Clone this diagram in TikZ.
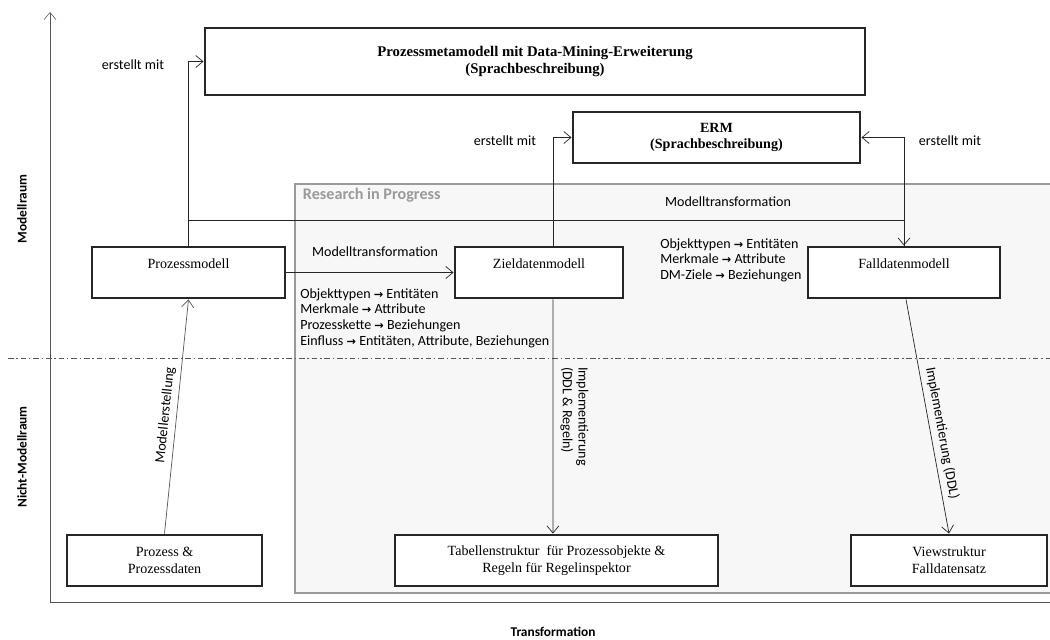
\documentclass[tikz,border=0pt]{standalone}
\usepackage{fontspec}
\setmainfont{Liberation Serif}
\newfontfamily\calfont{Carlito}
\newfontfamily\symfont{DejaVu Sans}
\usetikzlibrary{arrows, arrows.meta}
\usetikzlibrary{calc}
\definecolor{rahmengrau}{HTML}{9A9A9A}
\definecolor{flaechegrau}{HTML}{F7F7F7}
\definecolor{achsgrau}{HTML}{555555}
\newcommand{\zu}{{\symfont\bfseries\fontsize{8}{10}\selectfont →}}

\begin{document}
\begin{tikzpicture}[
    kasten/.style={draw=black!85, line width=2.1pt, fill=white, align=center, minimum height=1.275cm, inner sep=2pt},
    modell/.style={kasten, text depth=0.45cm},
    pfeil/.style={-{Straight Barb[length=1.8mm, width=3mm]}, draw=black!85, line width=0.5pt},
    beschr/.style={font=\calfont\fontsize{10}{11.2}\selectfont},
    achse/.style={font=\calfont\bfseries\fontsize{9.5}{11}\selectfont}
  ]
    \useasboundingbox (0,0) rectangle (26.25,-16);

    \fill[flaechegrau] (7.375,-4.6) rectangle (26.25,-14.825);
    \draw[rahmengrau, line width=1.8pt] (26.25,-4.6) -- (7.375,-4.6) -- (7.375,-14.825) -- (26.25,-14.825);
    \node[anchor=west, text=rahmengrau, font=\calfont\bfseries\fontsize{11.5}{13}\selectfont] (rip) at (7.45,-4.875) {Research in Progress};

    \coordinate (ursprung) at (1.25,-15.05);
    \coordinate (yspitze) at (1.25,-0.3);
    \coordinate (xende) at (26.25,-15.05);
    \draw[achsgrau, -{Straight Barb[length=1.8mm, width=3mm]}] (ursprung) -- (yspitze);
    \draw[achsgrau] (ursprung) -- (xende);
    \draw[achsgrau, dash pattern=on 4pt off 2pt on 1pt off 2pt] (0.2,-8.95) -- (26.25,-8.95);

    \node[achse, rotate=90] (mr) at (0.55,-5.225) {Modellraum};
    \node[achse, rotate=90] (nmr) at (0.55,-11.425) {Nicht-Modellraum};
    \node[achse] (tf) at (13.825,-15.8) {Transformation};

    \node[kasten, minimum width=16.5cm, minimum height=1.675cm, font=\bfseries\fontsize{10.5}{12.5}\selectfont] (meta) at (13.375,-1.5375) {Prozessmetamodell mit Data-Mining-Erweiterung\\(Sprachbeschreibung)};
    \node[kasten, minimum width=7.175cm, font=\bfseries] (erm) at (17.9125,-3.4375) {ERM\\(Sprachbeschreibung)};
    \node[modell, minimum width=4.825cm] (pm) at (4.7125,-6.8125) {Prozessmodell};
    \node[modell, minimum width=4.2cm] (zm) at (13.475,-6.8125) {Zieldatenmodell};
    \node[modell, minimum width=4.8cm] (fm) at (22.6,-6.8125) {Falldatenmodell};
    \node[kasten, minimum width=4.875cm] (pd) at (4.1125,-14.0125) {Prozess \&\\Prozessdaten};
    \node[kasten, minimum width=8.075cm] (tab) at (13.9125,-14.0125) {Tabellenstruktur\ \ für Prozessobjekte \&\\Regeln für Regelinspektor};
    \node[kasten, minimum width=4.9cm] (view) at (23.725,-14.0125) {Viewstruktur\\Falldatensatz};

    \draw[pfeil] (pm.north) |- (meta.west);
    \draw[pfeil] (pm.north) |- ([yshift=0.625cm]fm.north) -- (fm.north);
    \draw[pfeil] (fm.north) |- (erm.east);
    \draw[pfeil] ([xshift=0.35cm]zm.north) |- (erm.west);
    \draw[pfeil] (pm.east) -- (zm.west);
    \draw[pfeil] ([xshift=0.35cm]zm.south) -- ([xshift=-0.09cm]tab.north) node[midway, rotate=-90, anchor=south, beschr, align=left, inner sep=5pt] {Implementierung\\(DDL \& Regeln)};
    \draw[pfeil] ([xshift=0.05cm]fm.south) -- (view.north) node[pos=0.58, sloped, above, beschr] {Implementierung (DDL)};
    \draw[pfeil, draw=achsgrau] (pd.north) -- (pm.south) node[midway, sloped, above, beschr] {Modellerstellung};

    \node[beschr] (em1) at (3.325,-1.625) {erstellt mit};
    \node[beschr] (em2) at (12.625,-3.525) {erstellt mit};
    \node[beschr] (em3) at (23.75,-3.525) {erstellt mit};
    \node[beschr] (mt1) at (18.2,-5.05) {Modelltransformation};
    \node[beschr] (mt2) at (9.375,-6.3) {Modelltransformation};
    \node[beschr, anchor=north west, align=left, inner sep=0pt] (abb1) at (7.5,-7.2) {Objekttypen \zu{} Entitäten\\Merkmale \zu{} Attribute\\Prozesskette \zu{} Beziehungen\\Einfluss \zu{} Entitäten, Attribute, Beziehungen};
    \node[beschr, anchor=north west, align=left, inner sep=0pt] (abb2) at (16.5,-5.95) {Objekttypen \zu{} Entitäten\\Merkmale \zu{} Attribute\\DM-Ziele \zu{} Beziehungen};
\end{tikzpicture}
\end{document}
